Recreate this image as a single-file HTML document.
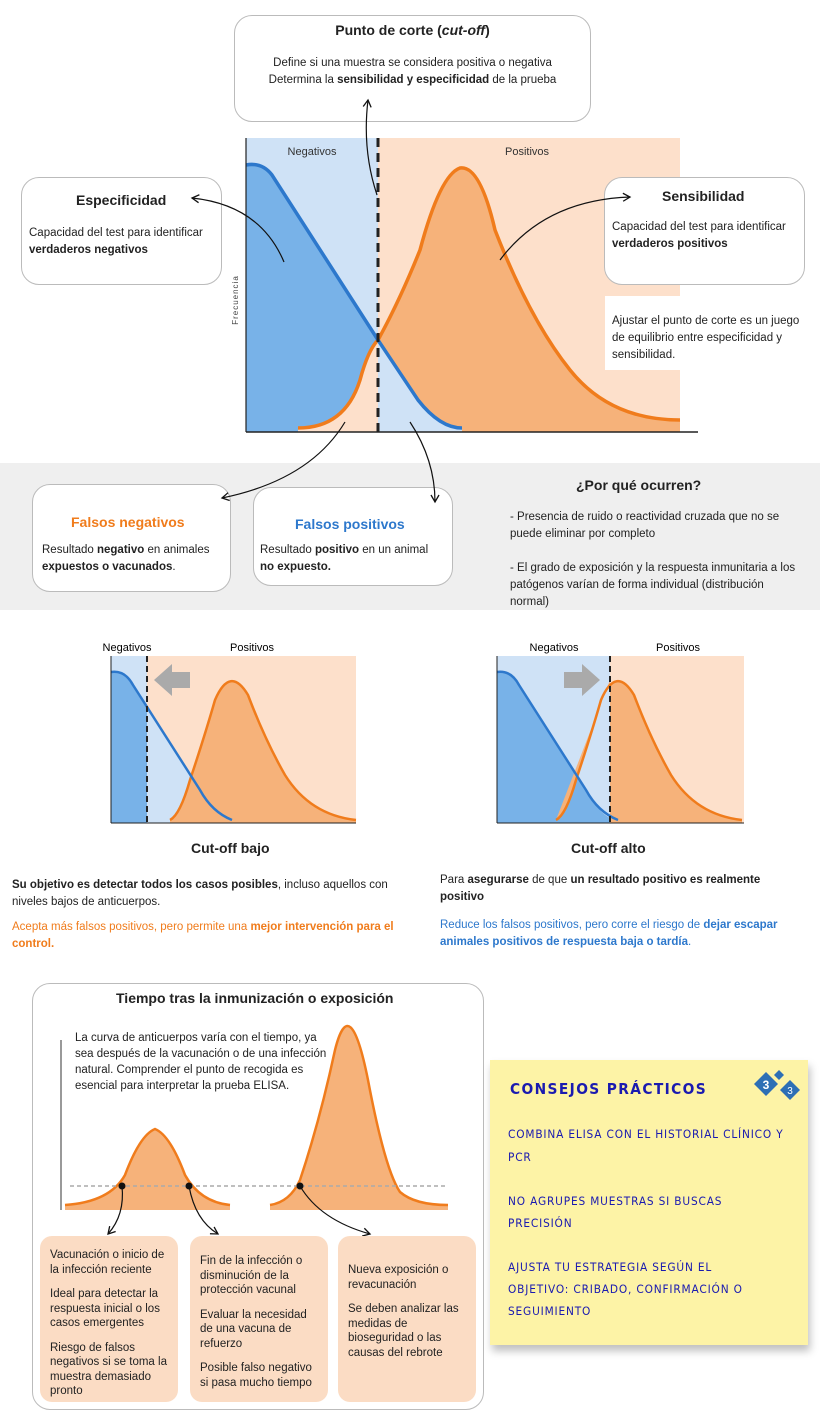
<!DOCTYPE html>
<html><head><meta charset="utf-8"><style>
body{margin:0;width:820px;height:1417px;position:relative;background:#fff;font-family:"Liberation Sans",sans-serif;color:#222;overflow:hidden}
.a{position:absolute}
.box{position:absolute;border:1.5px solid #bbb;border-radius:18px;background:#fff;box-sizing:border-box}
.t{font-size:12px;line-height:17px}
.hand{position:absolute;left:508px;font-family:"DejaVu Sans",sans-serif;color:#1a1ab0;font-size:11.5px;letter-spacing:0.9px;text-transform:uppercase;white-space:nowrap;line-height:22px;transform:scaleX(0.92);transform-origin:left}
.pb{position:absolute;background:#fbdcc4;border-radius:12px;font-size:11.5px;line-height:14.5px;padding:8px 10px;box-sizing:border-box}
.pb p{margin:0 0 10px}
</style></head><body>
<svg class="a" style="left:0;top:0" width="820" height="1417">
<rect x="0" y="463" width="820" height="147" fill="#efefef"/>
<rect x="246" y="138" width="132" height="294" fill="#cfe2f6"/>
<rect x="378" y="138" width="302" height="294" fill="#fde0cb"/>
<path d="M246,165 Q262,162 272,175 L378,340 L378,432 L246,432Z" fill="#78b2e8"/>
<path d="M298,428 Q345,428 360,380 Q368,350 378,340 L378,432 L298,432Z" fill="#fde0cb"/>
<path d="M378,340 Q400,300 420,250 Q440,175 460,168 Q480,165 495,230 Q530,320 570,370 Q610,420 680,420 L680,432 L378,432Z" fill="#f6b27a"/>
<path d="M378,340 L418,400 Q440,428 462,428 L462,432 L378,432Z" fill="#cfe2f6"/>
<path d="M298,428 Q345,428 360,380 Q368,350 378,340 Q400,300 420,250 Q440,175 460,168 Q480,165 495,230 Q530,320 570,370 Q610,420 680,420" fill="none" stroke="#f07c1c" stroke-width="3.5"/>
<path d="M246,165 Q262,162 272,175 L378,340 L418,400 Q440,428 462,428" fill="none" stroke="#2d78cc" stroke-width="3.5"/>
<line x1="378" y1="138" x2="378" y2="432" stroke="#222" stroke-width="3" stroke-dasharray="9,6"/>
<line x1="246" y1="138" x2="246" y2="432" stroke="#222" stroke-width="1.2"/>
<line x1="246" y1="432" x2="698" y2="432" stroke="#222" stroke-width="1.5"/>
<rect x="605" y="296" width="80" height="74" fill="#fff"/>
<text x="312" y="155" font-size="11" text-anchor="middle" fill="#333">Negativos</text>
<text x="527" y="155" font-size="11" text-anchor="middle" fill="#333">Positivos</text>
<text x="238" y="300" font-size="8" fill="#444" transform="rotate(-90 238 300)" text-anchor="middle" letter-spacing="1">Frecuencia</text>
<rect x="111" y="656" width="36" height="167" fill="#cfe2f6"/>
<rect x="147" y="656" width="209" height="167" fill="#fde0cb"/>
<path d="M111,672 Q125,670 133,685 L147,708 L147,823 L111,823Z" fill="#78b2e8"/>
<path d="M147,708 L200,790 Q212,812 232,820 L232,823 L147,823Z" fill="#cfe2f6"/>
<path d="M170,820 Q180,815 190,780 Q205,735 215,700 Q230,665 248,695 Q265,740 285,775 Q310,815 356,820 L356,823 L170,823Z" fill="#f6b27a"/>
<path d="M170,820 Q180,815 190,780 Q205,735 215,700 Q230,665 248,695 Q265,740 285,775 Q310,815 356,820" fill="none" stroke="#f07c1c" stroke-width="2.5"/>
<path d="M111,672 Q125,670 133,685 L200,790 Q212,812 232,820" fill="none" stroke="#2d78cc" stroke-width="2.5"/>
<line x1="147" y1="656" x2="147" y2="823" stroke="#222" stroke-width="2" stroke-dasharray="6,4"/>
<line x1="111" y1="656" x2="111" y2="823" stroke="#222"/><line x1="111" y1="823" x2="356" y2="823" stroke="#222"/>
<path d="M190,672 h-18 v-8 l-18,16 18,16 v-8 h18z" fill="#aaa"/>
<text x="127" y="651" font-size="11" text-anchor="middle">Negativos</text>
<text x="252" y="651" font-size="11" text-anchor="middle">Positivos</text>
<rect x="497" y="656" width="113" height="167" fill="#cfe2f6"/>
<rect x="610" y="656" width="134" height="167" fill="#fde0cb"/>
<path d="M497,672 Q511,670 519,685 L586,790 Q598,812 610,818 L610,823 L497,823Z" fill="#78b2e8"/>
<path d="M556,820 Q566,815 576,780 Q591,735 601,700 Q616,665 634,695 Q651,740 671,775 Q696,815 742,820 L742,823 L610,823 L610,680Z" fill="#f6b27a"/>
<path d="M556,820 Q566,815 576,780 Q591,735 601,700 Q616,665 634,695 Q651,740 671,775 Q696,815 742,820" fill="none" stroke="#f07c1c" stroke-width="2.5"/>
<path d="M497,672 Q511,670 519,685 L586,790 Q598,812 618,820" fill="none" stroke="#2d78cc" stroke-width="2.5"/>
<line x1="610" y1="656" x2="610" y2="823" stroke="#222" stroke-width="2" stroke-dasharray="6,4"/>
<line x1="497" y1="656" x2="497" y2="823" stroke="#222"/><line x1="497" y1="823" x2="744" y2="823" stroke="#222"/>
<path d="M564,672 h18 v-8 l18,16 -18,16 v-8 h-18z" fill="#aaa"/>
<text x="554" y="651" font-size="11" text-anchor="middle">Negativos</text>
<text x="678" y="651" font-size="11" text-anchor="middle">Positivos</text>
</svg>

<div class="box" style="left:234px;top:15px;width:357px;height:107px;text-align:center">
<div style="font-weight:bold;font-size:14px;margin-top:6px">Punto de corte (<i>cut-off</i>)</div>
<div class="t" style="margin-top:17px;font-size:11.5px">Define si una muestra se considera positiva o negativa<br>Determina la <b>sensibilidad y especificidad</b> de la prueba</div></div>
<div class="box" style="left:21px;top:177px;width:201px;height:108px">
<div style="font-weight:bold;font-size:14px;margin:14px 0 0 54px">Especificidad</div>
<div class="t" style="margin:17px 0 0 7px;font-size:11.5px">Capacidad del test para identificar<br><b>verdaderos negativos</b></div></div>
<div class="box" style="left:604px;top:177px;width:201px;height:108px">
<div style="font-weight:bold;font-size:14px;margin:10px 0 0 57px">Sensibilidad</div>
<div class="t" style="margin:15px 0 0 7px;font-size:11.5px">Capacidad del test para identificar<br><b>verdaderos positivos</b></div></div>
<div class="a t" style="left:612px;top:313px;width:200px;font-size:11.5px;line-height:17px">Ajustar el punto de corte es un juego de equilibrio entre especificidad y sensibilidad.</div>

<div class="box" style="left:32px;top:484px;width:199px;height:108px">
<div style="font-weight:bold;font-size:14px;color:#f07c1c;margin:29px 0 0 38px">Falsos negativos</div>
<div class="t" style="margin:12px 0 0 9px;font-size:11.5px">Resultado <b>negativo</b> en animales<br><b>expuestos o vacunados</b>.</div></div>
<div class="box" style="left:253px;top:487px;width:200px;height:99px">
<div style="font-weight:bold;font-size:14px;color:#2d78cc;margin:28px 0 0 41px">Falsos positivos</div>
<div class="t" style="margin:10px 0 0 6px;font-size:11.5px">Resultado <b>positivo</b> en un animal<br><b>no expuesto.</b></div></div>
<div class="a" style="left:576px;top:477px;font-weight:bold;font-size:14px">¿Por qué ocurren?</div>
<div class="a t" style="left:510px;top:509px;width:290px;font-size:11.5px">- Presencia de ruido o reactividad cruzada que no se puede eliminar por completo<br><br>- El grado de exposición y la respuesta inmunitaria a los patógenos varían de forma individual (distribución normal)</div>

<svg class="a" style="left:0;top:0" width="820" height="620">
<defs><marker id="ar" markerWidth="10" markerHeight="10" refX="8" refY="5" orient="auto" markerUnits="userSpaceOnUse"><path d="M1,1 L8,5 L1,9" fill="none" stroke="#111" stroke-width="1.3"/></marker></defs>
<path d="M377,195 Q362,150 368,100" fill="none" stroke="#111" stroke-width="1.2" marker-end="url(#ar)"/>
<path d="M284,262 Q260,205 192,198" fill="none" stroke="#111" stroke-width="1.2" marker-end="url(#ar)"/>
<path d="M500,260 Q545,200 630,197" fill="none" stroke="#111" stroke-width="1.2" marker-end="url(#ar)"/>
<path d="M345,422 Q310,480 222,498" fill="none" stroke="#111" stroke-width="1.2" marker-end="url(#ar)"/>
<path d="M410,422 Q435,460 435,502" fill="none" stroke="#111" stroke-width="1.2" marker-end="url(#ar)"/>
</svg>

<div class="a" style="left:191px;top:840px;font-weight:bold;font-size:14px">Cut-off bajo</div>
<div class="a" style="left:571px;top:840px;font-weight:bold;font-size:14px">Cut-off alto</div>
<div class="a t" style="left:12px;top:877px;width:390px;font-size:11.5px"><b>Su objetivo es detectar todos los casos posibles</b>, incluso aquellos con niveles bajos de anticuerpos.</div>
<div class="a t" style="left:12px;top:919px;width:390px;font-size:11.5px;color:#f07c1c">Acepta más falsos positivos, pero permite una <b>mejor intervención para el control.</b></div>
<div class="a t" style="left:440px;top:872px;width:360px;font-size:11.5px">Para <b>asegurarse</b> de que <b>un resultado positivo es realmente positivo</b></div>
<div class="a t" style="left:440px;top:917px;width:370px;font-size:11.5px;color:#2d78cc">Reduce los falsos positivos, pero corre el riesgo de <b>dejar escapar animales positivos de respuesta baja o tardía</b>.</div>

<div class="box" style="left:32px;top:983px;width:452px;height:427px"></div>
<div class="a" style="left:116px;top:990px;font-weight:bold;font-size:14px">Tiempo tras la inmunización o exposición</div>
<svg class="a" style="left:0;top:970px" width="820" height="447">
<defs><marker id="ar2" markerWidth="10" markerHeight="10" refX="8" refY="5" orient="auto" markerUnits="userSpaceOnUse"><path d="M1,1 L8,5 L1,9" fill="none" stroke="#111" stroke-width="1.3"/></marker></defs>
<path d="M65,235 Q110,232 125,205 Q140,165 155,159 Q170,165 185,205 Q200,232 230,235 L230,240 L65,240Z" fill="#f6b27a"/>
<path d="M270,235 Q290,232 300,210 Q320,150 335,80 Q350,20 368,110 Q385,200 400,222 Q415,235 448,235 L448,240 L270,240Z" fill="#f6b27a"/>
<path d="M65,235 Q110,232 125,205 Q140,165 155,159 Q170,165 185,205 Q200,232 230,235" fill="none" stroke="#f07c1c" stroke-width="2.5"/>
<path d="M270,235 Q290,232 300,210 Q320,150 335,80 Q350,20 368,110 Q385,200 400,222 Q415,235 448,235" fill="none" stroke="#f07c1c" stroke-width="2.5"/>
<line x1="70" y1="216" x2="448" y2="216" stroke="#aaa" stroke-width="1.5" stroke-dasharray="4,3"/>
<line x1="61" y1="70" x2="61" y2="240" stroke="#333"/>
<circle cx="122" cy="216" r="3.5" fill="#111"/><circle cx="189" cy="216" r="3.5" fill="#111"/><circle cx="300" cy="216" r="3.5" fill="#111"/>
<path d="M122,216 Q125,245 108,264" fill="none" stroke="#111" stroke-width="1.2" marker-end="url(#ar2)"/>
<path d="M189,216 Q195,250 218,264" fill="none" stroke="#111" stroke-width="1.2" marker-end="url(#ar2)"/>
<path d="M300,216 Q320,250 370,264" fill="none" stroke="#111" stroke-width="1.2" marker-end="url(#ar2)"/>
</svg>
<div class="a t" style="left:75px;top:1030px;width:258px;font-size:11.5px;line-height:16px">La curva de anticuerpos varía con el tiempo, ya sea después de la vacunación o de una infección natural. Comprender el punto de recogida es esencial para interpretar la prueba ELISA.</div>
<div class="pb" style="left:40px;top:1236px;width:138px;height:166px;padding-top:12px"><p>Vacunación o inicio de la infección reciente</p><p>Ideal para detectar la respuesta inicial o los casos emergentes</p><p>Riesgo de falsos negativos si se toma la muestra demasiado pronto</p></div>
<div class="pb" style="left:190px;top:1236px;width:138px;height:166px;padding-top:18px"><p>Fin de la infección o disminución de la protección vacunal</p><p>Evaluar la necesidad de una vacuna de refuerzo</p><p>Posible falso negativo si pasa mucho tiempo</p></div>
<div class="pb" style="left:338px;top:1236px;width:138px;height:166px;padding-top:27px"><p>Nueva exposición o revacunación</p><p>Se deben analizar las medidas de bioseguridad o las causas del rebrote</p></div>

<div class="a" style="left:490px;top:1060px;width:318px;height:285px;background:#fdf3a6;box-shadow:2px 6px 8px rgba(0,0,0,0.25)"></div>
<div class="hand" style="left:510px;top:1078px;font-size:15px;font-weight:bold;letter-spacing:1.5px">Consejos prácticos</div>
<svg class="a" style="left:752px;top:1068px" width="50" height="32"><path d="M14,4 L26,16 14,28 2,16Z" fill="#2d6fb5"/><text x="14" y="21" font-size="12" fill="#fff" text-anchor="middle" font-weight="bold">3</text><path d="M38,12 L48,22 38,32 28,22Z" fill="#2d6fb5"/><text x="38" y="26" font-size="10" fill="#fff" text-anchor="middle">3</text><path d="M27,2 L32,7 27,12 22,7Z" fill="#2d6fb5"/></svg>
<div class="hand" style="top:1123px">Combina ELISA con el historial clínico y</div>
<div class="hand" style="top:1146px">PCR</div>
<div class="hand" style="top:1190px">No agrupes muestras si buscas</div>
<div class="hand" style="top:1212px">precisión</div>
<div class="hand" style="top:1256px">Ajusta tu estrategia según el</div>
<div class="hand" style="top:1278px">objetivo: cribado, confirmación o</div>
<div class="hand" style="top:1300px">seguimiento</div>
</body></html>
